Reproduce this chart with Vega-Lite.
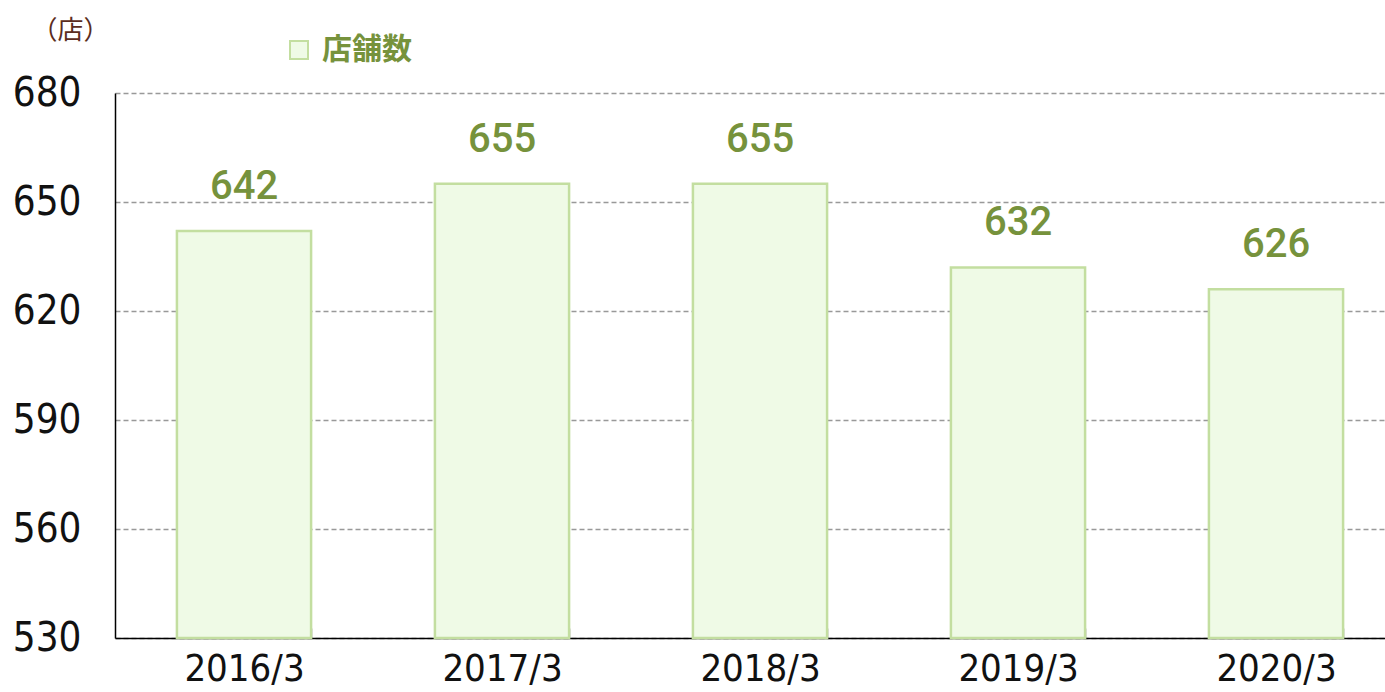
{
  "$schema": "https://vega.github.io/schema/vega-lite/v6.json",
  "width": 1270,
  "height": 545,
  "autosize": {"type": "none"},
  "padding": {"left": 115, "top": 93, "right": 0, "bottom": 54},
  "background": "white",
  "data": {"values": [
    {"year": "2016/3", "stores": 642, "series": "店舗数"},
    {"year": "2017/3", "stores": 655, "series": "店舗数"},
    {"year": "2018/3", "stores": 655, "series": "店舗数"},
    {"year": "2019/3", "stores": 632, "series": "店舗数"},
    {"year": "2020/3", "stores": 626, "series": "店舗数"}
  ]},
  "config": {"view": {"stroke": null}},
  "encoding": {
    "x": {
      "field": "year", "type": "nominal", "sort": null,
      "scale": {"range": [0, 1290], "paddingInner": 0.48, "paddingOuter": 0.24},
      "axis": {
        "title": null, "labelAngle": 0, "labelFont": "DejaVu Sans Condensed, Liberation Sans Narrow, sans-serif",
        "labelFontSize": 38, "labelColor": "#111111", "labelPadding": 22,
        "domainColor": "#000000", "domainWidth": 1.5,
        "tickBand": "extent", "tickSize": -10, "tickColor": "#808080", "tickWidth": 1.5,
        "encode": {"labels": {"update": {"stroke": {"value": "#9a9a9a"}, "strokeWidth": {"value": 1}}}}
      }
    },
    "y": {
      "field": "stores", "type": "quantitative",
      "scale": {"domain": [530, 680], "zero": false, "nice": false},
      "axis": {
        "values": [530, 560, 590, 620, 650, 680],
        "title": "（店）", "titleAngle": 0, "titleX": -45, "titleY": -63, "titleAlign": "center", "titleBaseline": "middle",
        "titleFont": "Noto Sans CJK JP", "titleFontSize": 26, "titleFontWeight": "normal", "titleColor": "#5B2C20",
        "labelFont": "DejaVu Sans Condensed, Liberation Sans Narrow, sans-serif", "labelFontSize": 40,
        "labelColor": "#111111", "labelPadding": 34,
        "ticks": false, "domainColor": "#000000", "domainWidth": 1.5,
        "grid": true, "gridColor": "#999999", "gridDash": [5, 3], "gridWidth": 1.3,
        "encode": {"labels": {"update": {"stroke": {"value": "#9a9a9a"}, "strokeWidth": {"value": 1}}}}
      }
    }
  },
  "layer": [
    {
      "mark": {"type": "bar", "stroke": "#C3DEA0", "strokeWidth": 2.5},
      "encoding": {
        "y2": {"datum": 530},
        "color": {
          "field": "series", "type": "nominal",
          "scale": {"range": ["#EFFAE6"]},
          "legend": {
            "title": null, "orient": "none", "legendX": 169, "legendY": -58,
            "symbolType": "square", "symbolSize": 324, "symbolStrokeColor": "#C3DEA0", "symbolStrokeWidth": 2,
            "symbolOpacity": 1, "labelFont": "Noto Sans CJK JP", "labelFontSize": 30, "labelFontWeight": "bold",
            "labelColor": "#76923C", "padding": 0, "labelOffset": 8
          }
        }
      }
    },
    {
      "mark": {"type": "text", "baseline": "alphabetic", "dy": -32, "font": "Roboto", "fontSize": 40, "fontWeight": 500, "color": "#76923C"},
      "encoding": {"text": {"field": "stores", "type": "quantitative"}}
    }
  ]
}
